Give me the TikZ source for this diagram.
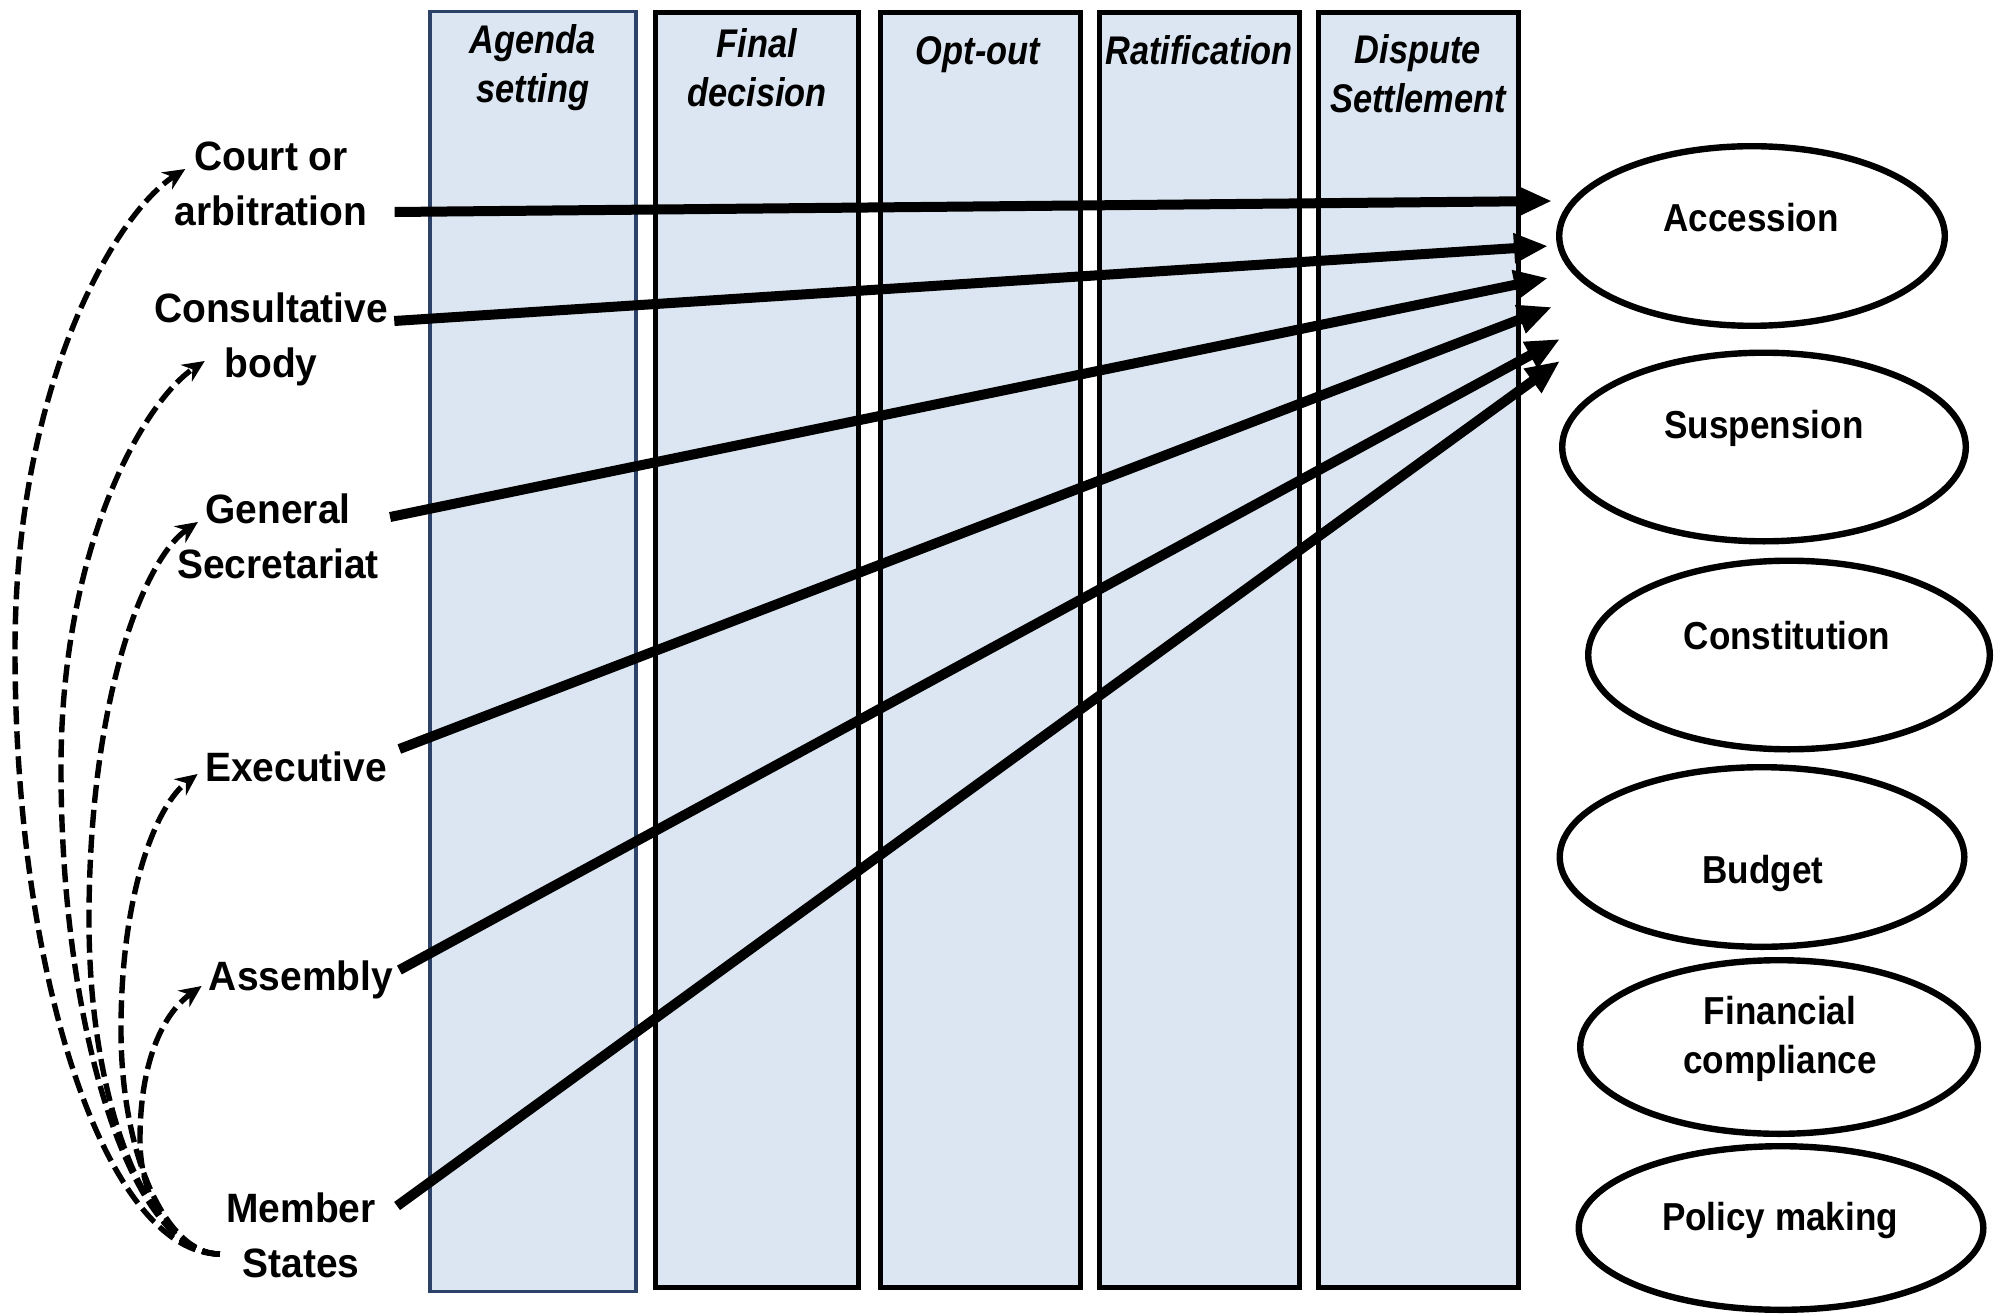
\documentclass[tikz,border=0pt]{standalone}
\usepackage{fontspec}
\newfontfamily\narrowsans{Liberation Sans}[FakeStretch=0.9]
\newfontfamily\actorsans{Liberation Sans}[FakeStretch=0.95]
\newfontfamily\headsans{Liberation Sans}[FakeStretch=0.86]
\definecolor{ColFill}{RGB}{220,230,242}
\definecolor{ColNavy}{RGB}{44,66,104}
\usetikzlibrary{arrows.meta, shapes.geometric, positioning}

\begin{document}
\begin{tikzpicture}[x=0.5pt, y=-0.5pt,
  col/.style={draw=black, line width=2.6pt, fill=ColFill, minimum width=100pt,
              minimum height=637.5pt, inner sep=0pt},
  head/.style={font=\headsans\bfseries\itshape\fontsize{20}{24.5}\selectfont,
               align=center, inner sep=0pt},
  actor/.style={font=\actorsans\bfseries\fontsize{20.5}{27.5}\selectfont,
                align=center, inner sep=0pt},
  oval/.style={ellipse, draw=black, line width=3.2pt},
  ovaltext/.style={font=\narrowsans\bfseries\fontsize{19.5}{24.5}\selectfont,
                   align=center, inner sep=0pt},
  arrow/.style={-{Triangle[length=17pt, width=14pt]}, line width=5pt},
  dasharrow/.style={-{Stealth[length=11pt, width=10pt]}, line width=2.7pt,
                    dash pattern=on 9pt off 3.5pt},
]
  \path[use as bounding box, fill=white] (0,0) rectangle (2007,1316);

  % stages
  \node[col, draw=ColNavy, line width=1.6pt, minimum width=103pt,
        minimum height=640pt] (agenda) at (533,651.5) {};
  \node[col, minimum width=101.5pt] (final) at (757,650) {};
  \node[col] (optout) at (980.5,650) {};
  \node[col] (ratif) at (1199.5,650) {};
  \node[col] (dispute) at (1418.5,650) {};

  \node[head] (agenda-h) at (533,68) {Agenda\\setting};
  \node[head] (final-h) at (757,68) {Final\\decision};
  \node[head] (optout-h) at (978,55) {Opt-out};
  \node[head] (ratif-h) at (1199,50) {Ratification};
  \node[head] (dispute-h) at (1418,74) {Dispute\\Settlement};

  % actors
  \node[actor] (court) at (271,184) {Court or\\arbitration};
  \node[actor] (consult) at (271,339) {Consultative\\body};
  \node[actor] (secret) at (278,536) {General\\Secretariat};
  \node[actor] (exec) at (296,767) {Executive};
  \node[actor] (assembly) at (301,980) {Assembly};
  \node[actor] (members) at (301,1235) {Member\\States};

  % issue areas
  \node[oval, minimum width=192.8pt, minimum height=89.8pt] (accession) at (1752,236) {};
  \node[oval, minimum width=201.8pt, minimum height=94.3pt] (suspension) at (1764,447) {};
  \node[oval, minimum width=200.8pt, minimum height=94.3pt] (constitution) at (1789,655) {};
  \node[oval, minimum width=202.3pt, minimum height=89.8pt] (budget) at (1762,857) {};
  \node[oval, minimum width=198.8pt, minimum height=86.8pt] (fincomp) at (1779,1047) {};
  \node[oval, minimum width=202.3pt, minimum height=81.8pt] (policy) at (1781,1228) {};

  \node[ovaltext] (accession-t) at (1751,218) {Accession};
  \node[ovaltext] (suspension-t) at (1764,428) {Suspension};
  \node[ovaltext] (constitution-t) at (1787,636) {Constitution};
  \node[ovaltext] (budget-t) at (1763,873) {Budget};
  \node[ovaltext] (fincomp-t) at (1780,1039) {Financial\\compliance};
  \node[ovaltext] (policy-t) at (1780,1220) {Policy making};

  % actors -> accession
  \draw[arrow] ([shift={(27,28)}]court.east) -- ([shift={(-4,-35)}]accession.west);
  \draw[arrow] ([shift={(6,-18)}]consult.east) -- ([shift={(-8,10)}]accession.west);
  \draw[arrow] ([shift={(11,-19)}]secret.east) -- ([shift={(-8,42)}]accession.west);
  \draw[arrow] ([shift={(12,-18)}]exec.east) -- ([shift={(-4,71)}]accession.west);
  \draw[arrow] ([shift={(6,-10)}]assembly.east) -- ([shift={(4,103)}]accession.west);
  \draw[arrow] ([shift={(21,-29)}]members.east) -- ([shift={(4,125)}]accession.west);

  % member states delegate
  \draw[dasharrow] ([shift={(-6,19)}]members.west) .. controls +(-113,0) and +(0,330) .. (15,650)
    .. controls +(0,-265) and +(-70,45) .. ([shift={(11,-15)}]court.west);
  \draw[dasharrow] ([shift={(-6,19)}]members.west) .. controls +(-87,0) and +(0,267) .. (61,768)
    .. controls +(0,-224) and +(-60,40) .. ([shift={(51,22)}]consult.west);
  \draw[dasharrow] ([shift={(-6,19)}]members.west) .. controls +(-72,0) and +(0,184) .. (89,920)
    .. controls +(0,-219) and +(-55,38) .. ([shift={(21,-14)}]secret.west);
  \draw[dasharrow] ([shift={(-6,19)}]members.west) .. controls +(-55,0) and +(0,123) .. (121,1030)
    .. controls +(0,-141) and +(-40,30) .. ([shift={(-7,7)}]exec.west);
  \draw[dasharrow] ([shift={(-6,19)}]members.west) .. controls +(-44,0) and +(0,63) .. (140,1140)
    .. controls +(0,-85) and +(-35,25) .. ([shift={(-7,6)}]assembly.west);
\end{tikzpicture}
\end{document}
